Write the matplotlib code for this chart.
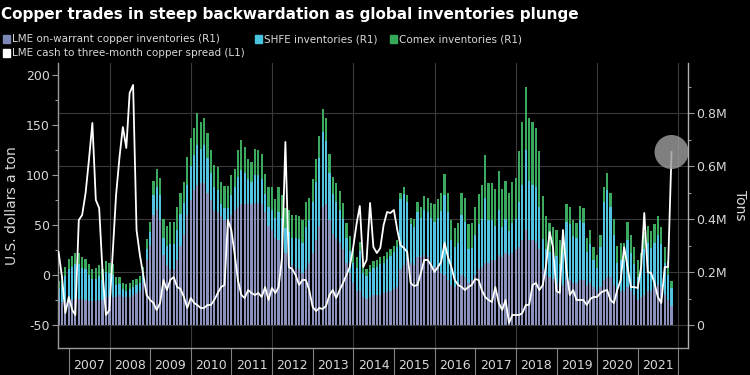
import matplotlib

matplotlib.use("Agg")
import matplotlib.pyplot as plt
import matplotlib.dates as mdates
from matplotlib.patches import Rectangle
from matplotlib.ticker import FixedLocator, FuncFormatter, NullFormatter
import pandas as pd

plt.rcParams["axes.unicode_minus"] = False
plt.rcParams["font.family"] = ["DejaVu Sans"]

# month-end observations, Sep 2006 .. Oct 2021
months = pd.date_range("2006-09-30", periods=182, freq="ME")

# inventories, thousand metric tons (right axis)
lme_kt = [
    85, 85, 90, 95, 95, 100, 100, 100, 95, 90, 90, 90, 95, 95, 105, 105, 105,
    105, 115, 105, 105, 105, 115, 120, 130, 160, 245, 300,
    415, 435, 395, 265, 225, 210, 210, 245, 300, 340,
    415, 470, 510, 530, 535, 535,
    500, 470, 435, 425, 410, 395, 395,
    415, 435, 445, 455, 455, 455, 455, 460, 460, 455,
    425, 375, 360, 330, 320, 300, 270, 245, 225, 215, 210, 195,
    210, 235, 270, 320, 375, 445, 455, 395, 345, 330, 310,
    285, 235, 195, 160, 130, 130, 105, 100, 105, 115, 115, 115, 120, 125, 130, 135, 145,
    210, 225, 245, 235, 225, 255, 255, 265, 255, 235, 220, 210, 195, 190, 170,
    150, 145, 150, 190, 180, 160, 170, 190, 210, 220, 235, 235, 245, 245, 265, 255, 270, 265, 270, 285, 295,
    320, 360, 320, 320, 310, 285, 210, 190, 180, 175, 160, 145, 150,
    170, 170, 160, 160, 170, 170, 150, 160, 145, 130, 145, 170, 180, 180, 150, 130,
    130, 130, 145, 130, 115, 95, 105, 115, 130, 130, 145, 150, 145, 115, 95, 70,
]
shfe_kt = [
    55, 70, 95, 115, 125, 130, 130, 115, 115, 100, 85, 85, 90, 75, 95, 90, 85,
    45, 40, 30, 25, 30, 30, 30, 30, 30, 40, 50,
    75, 85, 95, 65, 75, 95, 95, 115, 120, 120,
    115, 130, 130, 150, 130, 145,
    130, 105, 85, 85, 45, 45, 45,
    75, 85, 115, 130, 120, 95, 85, 105, 105, 95,
    70, 70, 75, 75, 105, 105, 95, 105, 105, 115, 115, 115,
    160, 160, 195, 220, 255, 285, 240, 180, 150, 135, 125,
    115, 95, 85, 75, 85, 150, 90, 85, 95, 100, 105, 115, 115, 125, 130, 140, 150,
    265, 270, 220, 145, 145, 170, 150, 170, 170, 170, 170, 195, 235, 300, 255,
    170, 150, 160, 225, 210, 125, 120, 150, 170, 180, 245, 160, 150, 130, 170, 115, 130, 90, 115, 115, 170,
    210, 300, 225, 210, 210, 160, 115, 95, 95, 95, 100, 85, 120,
    220, 210, 175, 170, 225, 215, 125, 145, 100, 85, 150, 295, 330, 265, 190, 105,
    115, 115, 175, 140, 115, 85, 105, 170, 180, 160, 165, 190, 160, 120, 95, 70,
]
comex_kt = [
    25, 30, 35, 40, 40, 40, 40, 40, 40, 40, 35, 40, 40, 40, 40, 40, 40,
    30, 25, 25, 25, 25, 25, 25, 25, 30, 40, 40,
    55, 70, 65, 70, 75, 85, 85, 85, 80, 80,
    105, 105, 105, 120, 100, 100,
    95, 85, 85, 85, 85, 85, 85,
    75, 70, 100, 115, 95, 75, 75, 100, 95, 95,
    75, 75, 85, 70, 95, 85, 75, 85, 85, 85, 85, 85,
    95, 85, 85, 85, 85, 85, 85, 70, 65, 70, 70,
    60, 55, 55, 50, 40, 35, 30, 25, 25, 25, 25, 25, 25, 25, 25, 25, 25,
    25, 25, 25, 25, 30, 40, 40, 50, 55, 55, 65, 70, 70, 80, 75,
    75, 70, 75, 85, 90, 95, 95, 105, 115, 130, 160, 140, 140, 140, 145, 145, 145, 145, 155, 155, 190,
    235, 240, 235, 235, 225, 210, 160, 125, 110, 100, 100, 90, 85,
    65, 65, 60, 55, 55, 55, 55, 55, 50, 50, 45, 55, 65, 55, 60, 65,
    65, 65, 70, 70, 65, 65, 60, 65, 65, 65, 70, 70, 65, 60, 50, 25,
]

# LME cash to three-month spread, USD a ton (left axis)
spread_usd = [
    23, -2, -38, -22, -35, -40, 55, 60, 82, 115, 152, 75, 67, 2, -40, -35, 25, 80, 118,
    148, 127, 182, 190, 45, 20, 0, -20, -25, -28, -35, -28, -5, -15, -5, -2, -12, -14, -22,
    -33, -23, -28, -30, -33, -33, -30, -30, -25, -18, -12, -10, 55, 45, 20, -5, -20, -23,
    -15, -18, -20, -18, -22, -12, -25, -13, -18, -12, 18, 133, 8, 6, 0, -10, -5, -5, -15,
    -32, -36, -33, -34, -31, -20, -15, -23, -15, -8, 0, 8, 28, 52, 69, 8, 15, 72, 28, 22,
    27, 50, 63, 62, 65, 45,
    30, 27, 23, -8, -11, -10, 2, 15, 15, 10, 3, 8, 13, 32, 18, 8, -5, -10, -12, -15, -12,
    -10, -4, -5, -15,
    -22, -25, -27, -12, -28, -35, -25, -48, -40, -40, -40, -38, -30, -30, -10, -8, -15,
    -10, 10, 43, 28, -16, -18, 45,
    5, -20, -15, -25, -25, -25, -30, -24, -22, -22, -18, -16, -15, -25, -28, -15, -5, 28,
    8, -12, -12, -13, 8, 62, 3, 2, -8, -22, -28, 8, 8, 123,
]

years = list(range(2007, 2022))

LME_C = "#8a91bb"
SHFE_C = "#52c4e2"
COMEX_C = "#3caa5e"
GRID_C = "#3a3a3a"
AXIS_C = "#9a9a9a"
TEXT_C = "#d8d8d8"

fig = plt.figure(figsize=(7.5, 3.75), dpi=100, facecolor="black")
ax = fig.add_axes([58 / 750, 27 / 375, 630 / 750, 285 / 375])
ax2 = ax.twinx()
ax.set_zorder(ax2.get_zorder() + 1)
ax.patch.set_visible(False)
ax2.set_facecolor("black")

# stacked inventory bars
shfe_bottom = list(lme_kt)
comex_bottom = [a + b for a, b in zip(lme_kt, shfe_kt)]
w = 20
ax2.bar(months, lme_kt, width=w, color=LME_C, zorder=2)
ax2.bar(months, shfe_kt, width=w, bottom=shfe_bottom, color=SHFE_C, zorder=2)
ax2.bar(months, comex_kt, width=w, bottom=comex_bottom, color=COMEX_C, zorder=2)

# spread line + highlight circle
ax.plot(months, spread_usd, color="white", lw=1.3, zorder=3)
ax.scatter([months[-1]], [spread_usd[-1]], s=600, color="#9c9c9c", alpha=0.82,
           edgecolor="none", zorder=4)

ax.set_xlim(pd.Timestamp("2006-09-25"), pd.Timestamp("2022-03-28"))
ax.set_ylim(-73, 212)
ax2.set_ylim(-86.8, 988.8)

# grid
ax2.yaxis.grid(True, which="major", color=GRID_C, lw=0.8, zorder=0)
ax2.set_axisbelow(True)
for yr in range(2008, 2023, 2):
    ax2.axvline(pd.Timestamp(f"{yr}-01-01"), color=GRID_C, lw=0.8, zorder=0)

# x axis: boundary ticks at year starts, labels centred in each year
ax.xaxis.set_major_locator(FixedLocator(
    [mdates.date2num(pd.Timestamp(f"{y}-01-01")) for y in range(2007, 2023)]))
ax.xaxis.set_major_formatter(NullFormatter())
ax.xaxis.set_minor_locator(FixedLocator(
    [mdates.date2num(pd.Timestamp(f"{y}-07-02")) for y in years]))
ax.xaxis.set_minor_formatter(FuncFormatter(
    lambda v, p: str(years[p]) if p is not None and p < len(years) else ""))
ax.tick_params(axis="x", which="major", length=20, width=0.8, color="#808080")
ax.tick_params(axis="x", which="minor", length=0, pad=8, labelsize=9, labelcolor=TEXT_C)

# left axis
ax.yaxis.set_major_locator(FixedLocator([-50, 0, 50, 100, 150, 200]))
ax.yaxis.set_minor_locator(FixedLocator([-25, 25, 75, 125, 175]))
ax.yaxis.set_major_formatter(FuncFormatter(lambda v, p: f"{v:.0f}"))
ax.tick_params(axis="y", which="major", length=4, width=0.8, color=AXIS_C,
               labelsize=9, labelcolor=TEXT_C, pad=2)
ax.tick_params(axis="y", which="minor", length=2.5, width=0.8, color=AXIS_C)

# right axis
ax2.yaxis.set_major_locator(FixedLocator([0, 200, 400, 600, 800]))
ax2.yaxis.set_minor_locator(FixedLocator([100, 300, 500, 700, 900]))
ax2.yaxis.set_major_formatter(FuncFormatter(lambda v, p: "0" if v == 0 else f"{v / 1000:.1f}M"))
ax2.tick_params(axis="y", which="major", length=4, width=0.8, color=AXIS_C,
                labelsize=9, labelcolor=TEXT_C, pad=2)
ax2.tick_params(axis="y", which="minor", length=2.5, width=0.8, color=AXIS_C)

for s in ("top", "right"):
    ax.spines[s].set_visible(False)
for s in ("top", "left", "bottom"):
    ax2.spines[s].set_visible(False)
ax.spines["left"].set_color(AXIS_C)
ax.spines["bottom"].set_color(AXIS_C)
ax2.spines["right"].set_color("#b0b0b0")
for sp in (ax.spines["left"], ax.spines["bottom"], ax2.spines["right"]):
    sp.set_linewidth(1.0)

# axis titles
fig.text(12 / 750, 1 - 206 / 375, "U.S. dollars a ton", rotation=90, color=TEXT_C,
         fontsize=10, ha="center", va="center")
fig.text(740 / 750, 1 - 205 / 375, "Tons", rotation=270, color=TEXT_C,
         fontsize=10, ha="center", va="center")

# title
fig.text(1 / 750, 1 - 14 / 375, "Copper trades in steep backwardation as global inventories plunge",
         color="white", fontsize=11, fontweight="bold", ha="left", va="center")


# legend
def legend_item(x, y, color, label):
    fig.patches.append(Rectangle((x / 750, 1 - (y + 3.5) / 375), 7 / 750, 7 / 375,
                                 transform=fig.transFigure, color=color))
    fig.text((x + 9) / 750, 1 - y / 375, label, color=TEXT_C, fontsize=7.5,
             ha="left", va="center")


legend_item(3, 39, "#7b87b5", "LME on-warrant copper inventories (R1)")
legend_item(255, 39, "#47c5e0", "SHFE inventories (R1)")
legend_item(390, 39, "#35a85a", "Comex inventories (R1)")
legend_item(3, 53, "white", "LME cash to three-month copper spread (L1)")

fig.savefig("out.png", dpi=100, facecolor="black")
